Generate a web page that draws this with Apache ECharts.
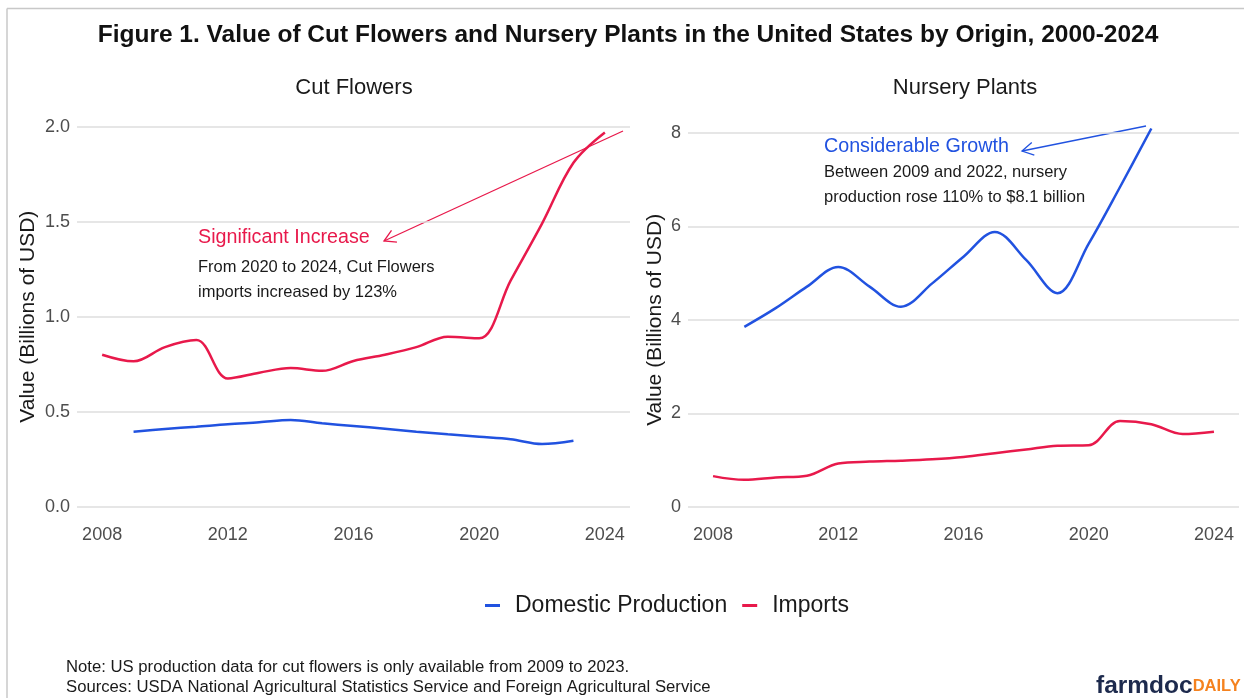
<!DOCTYPE html>
<html><head><meta charset="utf-8">
<script src="https://cdn.jsdelivr.net/npm/echarts@6/dist/echarts.min.js"></script>
<style>html,body{margin:0;padding:0;background:#fff}#c{width:1244px;height:698px}</style>
</head><body><div id="c"></div>
<script>
// ---- data (Billions of USD) ----
const years = [2008,2009,2010,2011,2012,2013,2014,2015,2016,2017,2018,2019,2020,2021,2022,2023,2024];
const cutImports      = [0.80,0.765,0.84,0.877,0.675,0.705,0.73,0.715,0.767,0.80,0.84,0.895,0.886,1.19,1.49,1.81,1.97];
const cutDomestic     = [null,0.395,0.409,0.421,0.434,0.444,0.456,0.439,0.425,0.41,0.395,0.381,0.368,0.355,0.33,0.347,null];
const nurseryImports  = [0.66,0.58,0.63,0.67,0.93,0.97,0.99,1.02,1.07,1.15,1.23,1.31,1.32,1.84,1.77,1.56,1.61];
const nurseryDomestic = [null,3.85,4.25,4.71,5.13,4.71,4.28,4.78,5.35,5.88,5.28,4.57,5.63,6.84,8.09,null,null];
const xTickLabels = [2008,2012,2016,2020,2024];
const panelTitles = ['Cut Flowers','Nursery Plants'];
const seriesNames = ['Domestic Production','Imports'];

const RED = '#E8194B', BLUE = '#2152E0';
const FONT = '"Liberation Sans", Arial, sans-serif';
const pairs = arr => years.map((y,i)=>[y,arr[i]]).filter(p=>p[1]!==null);

function xAxis(gi){
  return {type:'value', gridIndex:gi, min:2007.2, max:2024.8,
    axisLine:{show:false}, axisTick:{show:false}, splitLine:{show:false},
    axisLabel:{customValues:xTickLabels, formatter:v=>String(v), fontSize:18, color:'#4d4d4d', margin:19, fontFamily:FONT}};
}
function yAxis(gi,max,interval,fmt,gap){
  return {type:'value', gridIndex:gi, min:0, max:max, interval:interval,
    axisLine:{show:false}, axisTick:{show:false},
    splitLine:{lineStyle:{color:'#dedede', width:1.5}},
    axisLabel:{formatter:fmt, fontSize:18, color:'#4d4d4d', margin:7, fontFamily:FONT},
    name:'Value (Billions of USD)', nameLocation:'middle', nameGap:gap,
    nameTextStyle:{fontSize:21, color:'#1a1a1a', fontFamily:FONT}};
}
function line(name,gi,arr,color){
  return {type:'line', name:name, xAxisIndex:gi, yAxisIndex:gi, data:pairs(arr),
    symbol:'none', smooth:0.35, clip:false, lineStyle:{color:color, width:2.5}, itemStyle:{color:color}};
}
function arrow(x1,y1,x2,y2,color){ // tail (x1,y1) -> tip (x2,y2)
  const dx=x1-x2, dy=y1-y2, L=Math.hypot(dx,dy), ux=dx/L, uy=dy/L, h=13, a=Math.PI/6;
  const r=(t)=>[x2+h*(ux*Math.cos(t)-uy*Math.sin(t)), y2+h*(ux*Math.sin(t)+uy*Math.cos(t))];
  return [
    {type:'line', shape:{x1,y1,x2,y2}, style:{stroke:color, lineWidth:1.3}},
    {type:'polyline', shape:{points:[r(a),[x2,y2],r(-a)]}, style:{stroke:color, lineWidth:1.3, fill:null}}
  ];
}
function txt(text,x,y,size,color,opts){
  return {type:'text', style:Object.assign({text, x, y, fontSize:size, fill:color, fontFamily:FONT,
    align:'left', verticalAlign:'middle'}, opts||{})};
}

const chart = echarts.init(document.getElementById('c'), null, {renderer:'canvas'});
chart.setOption({
  backgroundColor:'#fff',
  animation:false,
  grid:[
    {left:77, right:614, top:126.7, bottom:191.3},
    {left:688, right:5, top:132.7, bottom:191}
  ],
  xAxis:[xAxis(0), xAxis(1)],
  yAxis:[yAxis(0,2,0.5,v=>v.toFixed(1),38), yAxis(1,8,2,v=>String(v),22)],
  legend:{data:seriesNames, left:485, top:594, padding:0, icon:'rect', itemWidth:15, itemHeight:3, itemGap:15,
    textStyle:{fontSize:23, color:'#1a1a1a', fontFamily:FONT, padding:[0,0,0,10]}},
  series:[
    line(seriesNames[0],0,cutDomestic,BLUE),
    line(seriesNames[1],0,cutImports,RED),
    line(seriesNames[0],1,nurseryDomestic,BLUE),
    line(seriesNames[1],1,nurseryImports,RED)
  ],
  graphic:[].concat(
    [{type:'line', shape:{x1:7,y1:8.5,x2:1244,y2:8.5}, style:{stroke:'#c8c8c8', lineWidth:1.5}},
     {type:'line', shape:{x1:7,y1:8.5,x2:7,y2:698}, style:{stroke:'#c8c8c8', lineWidth:1.5}}],
    [txt('Figure 1. Value of Cut Flowers and Nursery Plants in the United States by Origin, 2000-2024',628,35,24.5,'#111',{align:'center', fontWeight:'bold'}),
     txt(panelTitles[0],354,88,22,'#1a1a1a',{align:'center'}),
     txt(panelTitles[1],965,88,22,'#1a1a1a',{align:'center'}),
     txt('Significant Increase',198,238,19.7,RED),
     txt('From 2020 to 2024, Cut Flowers',198,267,16.5,'#1a1a1a'),
     txt('imports increased by 123%',198,292,16.5,'#1a1a1a'),
     txt('Considerable Growth',824,147,19.7,BLUE),
     txt('Between 2009 and 2022, nursery',824,172.5,16.5,'#1a1a1a'),
     txt('production rose 110% to $8.1 billion',824,197,16.5,'#1a1a1a'),
     txt('Note: US production data for cut flowers is only available from 2009 to 2023.',66,667,16.7,'#1a1a1a'),
     txt('Sources: USDA National Agricultural Statistics Service and Foreign Agricultural Service',66,687,16.7,'#1a1a1a'),
     {type:'text', style:{text:'{a|farmdoc}{b|DAILY}', x:1096, y:686, verticalAlign:'middle', align:'left',
       rich:{a:{fontSize:24.5, fontWeight:'bold', fill:'#1d2a4d', fontFamily:FONT},
             b:{fontSize:16.5, fontWeight:'bold', fill:'#f5821f', fontFamily:FONT}}}}
    ],
    arrow(623,131,384,241,RED),
    arrow(1146,126,1022,151,BLUE)
  )
});
</script></body></html>
